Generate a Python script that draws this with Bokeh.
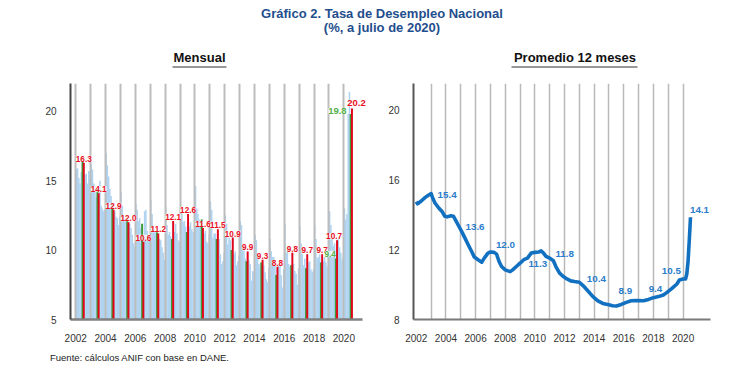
from bokeh.plotting import figure
from bokeh.models import Range1d, FixedTicker, ColumnDataSource
from bokeh.layouts import column, row
from bokeh.embed import file_html
from bokeh.resources import INLINE
from bokeh.core.properties import value

FONT = "Liberation Sans"

# ---------------- data: monthly unemployment rate (%), Jan..Dec ----------------
tasa_2002 = [15.8, 15.9, 15.2, 14.8, 15.6, 16.4, 16.3, 15.4, 15.5, 14.8, 15.7, 15.6]
tasa_2003 = [16.2, 15.8, 14.8, 14.6, 13.8, 14.4, 14.1, 15.0, 13.2, 13.0, 12.8, 12.9]
tasa_2004 = [17.0, 16.1, 15.3, 14.4, 13.9, 13.3, 12.9, 12.8, 12.4, 12.3, 11.8, 12.4]
tasa_2005 = [14.2, 13.2, 12.5, 12.3, 12.5, 12.3, 12.0, 11.9, 11.6, 11.1, 10.5, 10.2]
tasa_2006 = [13.3, 12.9, 12.1, 12.3, 11.6, 11.9, 10.6, 12.8, 12.9, 11.4, 10.8, 10.9]
tasa_2007 = [13.6, 12.6, 11.6, 11.4, 11.4, 11.3, 11.2, 10.8, 10.7, 10.2, 9.8, 9.3]
tasa_2008 = [13.1, 11.8, 11.1, 11.3, 11.0, 10.8, 12.1, 11.3, 11.9, 11.2, 10.7, 10.6]
tasa_2009 = [13.0, 12.6, 12.0, 12.1, 11.7, 11.3, 12.6, 11.7, 12.0, 11.5, 11.3, 11.3]
tasa_2010 = [14.6, 13.0, 12.6, 12.2, 12.1, 12.2, 11.6, 11.2, 11.4, 10.6, 10.5, 11.1]
tasa_2011 = [13.5, 12.9, 10.9, 11.2, 11.2, 10.8, 11.5, 10.8, 9.7, 9.0, 9.2, 9.8]
tasa_2012 = [12.5, 11.9, 10.4, 10.9, 10.7, 10.0, 10.9, 9.7, 9.9, 8.9, 9.2, 9.6]
tasa_2013 = [12.1, 11.8, 10.2, 10.2, 9.4, 9.2, 9.9, 9.3, 9.0, 7.8, 8.5, 8.4]
tasa_2014 = [11.1, 10.7, 9.7, 9.0, 8.8, 9.1, 9.3, 8.9, 8.4, 7.9, 7.7, 8.7]
tasa_2015 = [10.8, 9.9, 9.5, 9.5, 8.9, 8.2, 8.8, 9.0, 9.0, 8.2, 7.3, 8.6]
tasa_2016 = [11.9, 9.8, 10.1, 9.0, 8.8, 8.9, 9.8, 9.0, 8.5, 8.3, 7.5, 8.7]
tasa_2017 = [11.7, 10.5, 9.7, 8.9, 9.4, 8.7, 9.7, 9.1, 9.2, 8.6, 8.4, 8.6]
tasa_2018 = [11.8, 10.8, 9.4, 9.5, 9.7, 9.1, 9.7, 9.2, 9.5, 9.1, 8.8, 9.7]
tasa_2019 = [12.8, 11.8, 10.8, 10.3, 10.5, 9.4, 10.7, 10.8, 10.2, 9.8, 9.3, 9.5]
tasa_2020 = [13.0, 12.2, 12.6, 19.8, 21.4, 19.8, 20.2]

anios = list(range(2002, 2021))
tasas = [tasa_2002, tasa_2003, tasa_2004, tasa_2005, tasa_2006, tasa_2007, tasa_2008,
         tasa_2009, tasa_2010, tasa_2011, tasa_2012, tasa_2013, tasa_2014, tasa_2015,
         tasa_2016, tasa_2017, tasa_2018, tasa_2019, tasa_2020]

# 12-month average (%)
prom_fecha = ["2002-01", "2002-02", "2002-05", "2002-08", "2002-11", "2003-01", "2003-02",
              "2003-04", "2003-07", "2003-10", "2003-12", "2004-02", "2004-05", "2004-07",
              "2004-09", "2004-11", "2005-02", "2005-05", "2005-07", "2005-10", "2005-12",
              "2006-03", "2006-06", "2006-08", "2006-11", "2007-01", "2007-04", "2007-06",
              "2007-08", "2007-10", "2008-01", "2008-05", "2008-07", "2008-10", "2009-01",
              "2009-04", "2009-07", "2009-10", "2010-01", "2010-04", "2010-06", "2010-08",
              "2010-10", "2011-01", "2011-04", "2011-06", "2011-09", "2011-12", "2012-03",
              "2012-06", "2012-09", "2013-01", "2013-04", "2013-08", "2013-12", "2014-04",
              "2014-08", "2014-12", "2015-04", "2015-07", "2015-11", "2016-03", "2016-07",
              "2016-11", "2017-05", "2017-09", "2018-01", "2018-05", "2018-09", "2018-12",
              "2019-04", "2019-08", "2019-10", "2020-01", "2020-03", "2020-04", "2020-05",
              "2020-06", "2020-07"]
prom_valor = [14.74, 14.62, 14.78, 14.97, 15.12, 15.20, 15.00,
              14.68, 14.39, 14.16, 13.91, 13.87, 13.93, 13.91,
              13.66, 13.39, 13.00, 12.57, 12.28, 11.86, 11.57,
              11.42, 11.28, 11.51, 11.80, 11.86, 11.84, 11.74,
              11.32, 11.03, 10.84, 10.74, 10.84, 11.03, 11.22,
              11.42, 11.51, 11.80, 11.84, 11.86, 11.93, 11.80,
              11.61, 11.51, 11.36, 11.03, 10.65, 10.46, 10.32,
              10.21, 10.17, 10.13, 9.94, 9.63, 9.31, 9.07,
              8.92, 8.86, 8.79, 8.77, 8.86, 8.98, 9.07,
              9.09, 9.07, 9.15, 9.25, 9.31, 9.40, 9.55,
              9.78, 10.03, 10.26, 10.32, 10.32, 10.60, 11.30,
              12.50, 13.85]

# labels shown on the right panel and the dates they belong to
prom_etiqueta = ["15.4", "13.6", "12.0", "11.3", "11.8", "10.4", "8.9", "9.4", "10.5", "14.1"]
prom_etiqueta_fecha = ["2003-01", "2005-02", "2007-01", "2010-01", "2011-01", "2013-01",
                       "2016-03", "2018-01", "2019-10", "2020-07"]

# ---------------- styles ----------------
BLUE_BAR = "#afd3f0"
GREEN = "#3b9b36"
RED = "#e3061b"
GREEN_TXT = "#52b04a"
RED_TXT = "#e8101d"
LINE_BLUE = "#1270c1"
LBL_BLUE = "#2b7dcc"
TITLE_BLUE = "#1f4e8d"


def blank(w, h):
    f = figure(width=w, height=h, x_range=Range1d(0, w), y_range=Range1d(h, 0),
               x_axis_type=None, y_axis_type=None, output_backend="svg",
               toolbar_location=None, min_border=0)
    f.grid.visible = False
    f.outline_line_color = None
    f.background_fill_color = None
    f.border_fill_color = None
    return f


def style_axes(p):
    p.outline_line_color = None
    p.ygrid.visible = False
    p.axis.major_tick_line_color = None
    p.axis.minor_tick_line_color = None
    p.axis.major_label_text_font = FONT
    p.axis.major_label_text_font_size = "10px"
    p.axis.major_label_text_color = "#333333"
    p.axis.major_label_standoff = 8


# ---------------- header ----------------
hdr = blank(718, 70)
hdr.text(x=[381.5, 381.5], y=[13, 27],
         text=["Gráfico 2. Tasa de Desempleo Nacional", "(%, a julio de 2020)"],
         text_font=value(FONT), text_font_size="13px", text_font_style="bold",
         text_color=TITLE_BLUE, text_align="center", text_baseline="middle")
hdr.text(x=[199, 574.5], y=[57, 57], text=["Mensual", "Promedio 12 meses"],
         text_font=value(FONT), text_font_size="13px", text_font_style="bold",
         text_color="#111111", text_align="center", text_baseline="middle")
hdr.segment(x0=[172, 511], y0=[66.5, 66.5], x1=[226, 637], y1=[66.5, 66.5],
            line_color="#333333", line_width=1.2)

# ---------------- left: monthly ----------------
left = figure(width=378, height=274, x_range=Range1d(2001.65, 2021.25), y_range=Range1d(5, 22.0),
              output_backend="svg", toolbar_location=None,
              min_border_left=70, min_border_right=16, min_border_top=13, min_border_bottom=25)
style_axes(left)
left.background_fill_color = "white"
left.xaxis.ticker = FixedTicker(ticks=list(range(2002, 2021, 2)))
left.yaxis.ticker = FixedTicker(ticks=[5, 10, 15, 20])
left.xgrid.ticker = FixedTicker(ticks=list(range(2002, 2021)))
left.xgrid.grid_line_color = "#bcbcbc"
left.xgrid.grid_line_width = 2
left.yaxis.axis_line_color = "#454545"
left.yaxis.axis_line_width = 2
left.xaxis.axis_line_color = "#808080"
left.xaxis.axis_line_width = 2.5

bx, by = [], []
for a, vals in zip(anios, tasas):
    for m, v in enumerate(vals):
        bx.append(a + (m + 0.5) / 12)
        by.append(v)
left.vbar(x=bx, top=by, bottom=5, width=1.25 / 12, fill_color=BLUE_BAR, line_color=None,
          level="underlay")

jun_x = [a + 5.5 / 12 for a in anios]
jun_v = [vals[5] for vals in tasas]
jul_x = [a + 6.5 / 12 for a in anios]
jul_v = [vals[6] for vals in tasas]
left.vbar(x=jun_x, top=jun_v, bottom=5, width=0.13, fill_color=GREEN, line_color=None)
left.vbar(x=jul_x, top=jul_v, bottom=5, width=0.13, fill_color=RED, line_color=None)

# labels: July values (red) for every year, June values (green) for 2019 and 2020
lx, ly, lt, lc, ldx, ldy, lfs = [], [], [], [], [], [], []
for a, x, v in zip(anios, jul_x, jul_v):
    lx.append(x); ly.append(v); lt.append(f"{v:.1f}"); lc.append(RED_TXT)
    ldx.append(-3 if a == 2019 else (4.5 if a == 2020 else 0))
    ldy.append(-2 if a == 2020 else -1)
    lfs.append("9.5px" if a == 2020 else "8.2px")
for a, x, v in zip(anios, jun_x, jun_v):
    if a in (2019, 2020):
        lx.append(x); ly.append(v); lt.append(f"{v:.1f}"); lc.append(GREEN_TXT)
        ldx.append(-5.6 if a == 2019 else -13.3)
        ldy.append(-1.5 if a == 2019 else 0)
        lfs.append("9.5px" if a == 2020 else "8.2px")
lsrc = ColumnDataSource(dict(x=lx, y=ly, t=lt, c=lc, dx=ldx, dy=ldy, fs=lfs))
left.text(x="x", y="y", text="t", source=lsrc, text_color="c", x_offset="dx", y_offset="dy",
          text_font=value(FONT), text_font_size="fs", text_font_style="bold",
          text_align="center", text_baseline="bottom",
          background_fill_color="white", background_fill_alpha=0.75,
          level="annotation")

# ---------------- right: 12-month average ----------------
right = figure(width=340, height=274, x_range=Range1d(2001.81, 2021.85), y_range=Range1d(8, 21.5),
               output_backend="svg", toolbar_location=None,
               min_border_left=35, min_border_right=8, min_border_top=13, min_border_bottom=25)
style_axes(right)
right.background_fill_color = "white"
right.xaxis.ticker = FixedTicker(ticks=list(range(2002, 2021, 2)))
right.yaxis.ticker = FixedTicker(ticks=[8, 12, 16, 20])
right.xgrid.ticker = FixedTicker(ticks=list(range(2003, 2021)))
right.xgrid.grid_line_color = "#b9b9b9"
right.xgrid.grid_line_width = 1.5
right.yaxis.axis_line_color = "#555555"
right.yaxis.axis_line_width = 2
right.xaxis.axis_line_color = "#7a7a7a"
right.xaxis.axis_line_width = 2


def to_x(f):
    y, m = f.split("-")
    return int(y) + (int(m) - 1) / 12


px = [to_x(f) for f in prom_fecha]
right.line(px, prom_valor, line_color=LINE_BLUE, line_width=3.6, line_join="round")

off_dx = [16, 13, 15, 3, 15, 17, -1, 2, -8, 9]
off_dy = [1, -5, -7, 12, -4, -3, -11, -9, -9, -7]
rx = [to_x(f) for f in prom_etiqueta_fecha]
ry = [prom_valor[prom_fecha.index(f)] for f in prom_etiqueta_fecha]
rsrc = ColumnDataSource(dict(x=rx, y=ry, t=prom_etiqueta, dx=off_dx, dy=off_dy))
right.text(x="x", y="y", text="t", source=rsrc, x_offset="dx", y_offset="dy",
           text_font=value(FONT), text_font_size="9.8px", text_font_style="bold",
           text_color=LBL_BLUE, text_align="center", text_baseline="middle")

# ---------------- footer ----------------
ftr = blank(718, 20)
ftr.text(x=[49.5], y=[13], text=["Fuente: cálculos ANIF con base en DANE."],
         text_font=value(FONT), text_font_size="9.5px", text_color="#222222",
         text_align="left", text_baseline="middle")

layout = column(hdr, row(left, right), ftr)
open("out.html", "w").write(file_html(layout, INLINE))
